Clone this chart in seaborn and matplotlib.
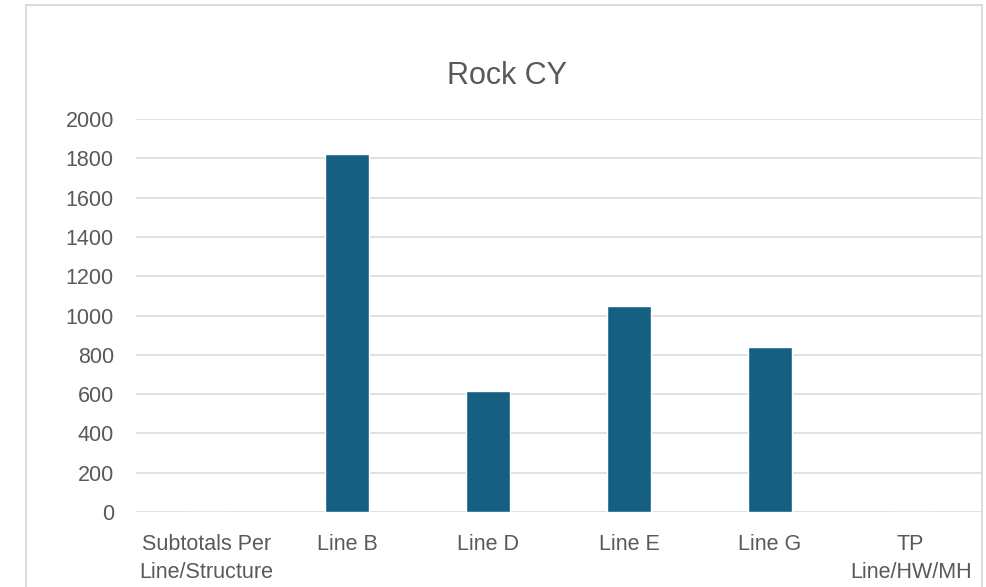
import matplotlib
matplotlib.use("Agg")
import matplotlib.pyplot as plt
import matplotlib.patches as mpatches
import seaborn as sns
import pandas as pd

categories = ["Subtotals Per\nLine/Structure", "Line B", "Line D", "Line E", "Line G", "TP\nLine/HW/MH"]
values = [0, 1820, 615, 1048, 838, 0]
yticks = [0, 200, 400, 600, 800, 1000, 1200, 1400, 1600, 1800, 2000]
title = "Rock CY"

sns.set_theme(style="white")
plt.rcParams['font.family'] = ['Liberation Sans', 'DejaVu Sans']

df = pd.DataFrame({"cat": categories, "val": values})

fig = plt.figure(figsize=(9.86, 5.87), dpi=100)
ax = fig.add_axes([136/986, 1 - 512/587, (981 - 136)/986, (512 - 119)/587])

sns.barplot(data=df, x="cat", y="val", ax=ax, color="#156082", width=0.31,
            saturation=1, order=categories)

ax.set_ylim(0, 2000)
ax.set_yticks(yticks)
ax.set_yticklabels([str(v) for v in yticks])
ax.set_xlim(-0.5, len(categories) - 0.5)
ax.set_xlabel("")
ax.set_ylabel("")
ax.yaxis.grid(True, color="#D9D9D9", linewidth=1.1)
ax.set_axisbelow(True)
for s in ax.spines.values():
    s.set_visible(False)
ax.tick_params(axis="both", length=0, labelsize=15.5, labelcolor="#595959")
ax.tick_params(axis="x", pad=16)
ax.tick_params(axis="y", pad=16)
for lab in ax.get_xticklabels():
    lab.set_multialignment("center")
    lab.set_linespacing(1.4)

fig.text(507/986, 1 - 76/587, title, ha="center", va="center", fontsize=22, color="#595959")

rect = mpatches.Rectangle((26/986, -0.1), (982 - 26)/986, 1.1 - 5/587,
                          transform=fig.transFigure, fill=False,
                          edgecolor="#D9D9D9", linewidth=1.3)
fig.patches.append(rect)

fig.savefig("out.png", dpi=100, facecolor="white")
